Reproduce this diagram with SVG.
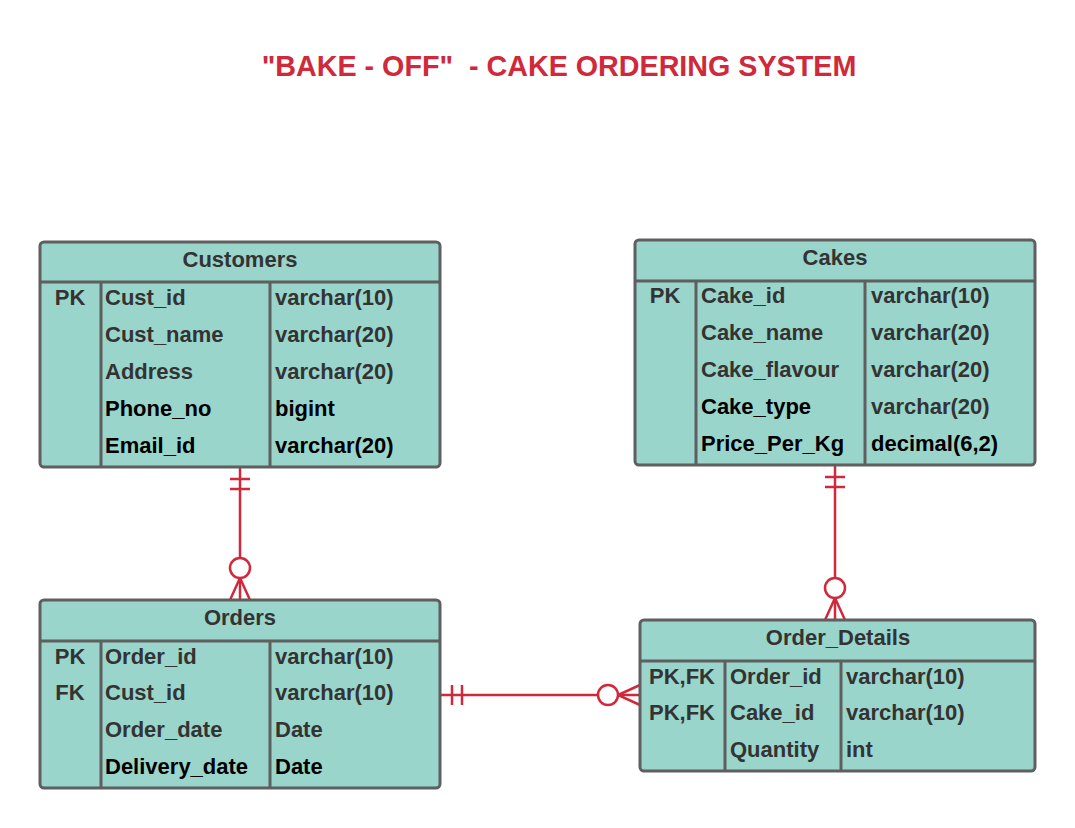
<svg xmlns="http://www.w3.org/2000/svg" width="1075" height="828" viewBox="0 0 1075 828">
<style>
.box{fill:#99d5cb;stroke:#5f5f5f;stroke-width:3}
.ln{stroke:#5f5f5f;stroke-width:3;fill:none}
text{font-family:"Liberation Sans",Arial,sans-serif;font-weight:bold;font-size:22px;fill:#333333}
.h{text-anchor:middle}
.k{text-anchor:middle}
.b{fill:#000000}
.title{font-size:28.7px;fill:#d0293b;text-anchor:middle;white-space:pre}
.c{stroke:#d0293b;stroke-width:2.5;fill:none}
.o{stroke:#d0293b;stroke-width:2.5;fill:#ffffff}
</style>
<rect width="1075" height="828" fill="#ffffff"/>
<text class="title" x="559" y="76" xml:space="preserve">"BAKE - OFF"  - CAKE ORDERING SYSTEM</text>

<g id="connectors">
  <g id="cust-orders">
    <line class="c" x1="240" y1="467" x2="240" y2="600"/>
    <line class="c" x1="230" y1="479" x2="250" y2="479"/>
    <line class="c" x1="230" y1="489" x2="250" y2="489"/>
    <path class="c" d="M230 600 L240 578 L250 600"/>
    <circle class="o" cx="240" cy="568" r="10"/>
  </g>
  <g id="cakes-details">
    <line class="c" x1="835" y1="466" x2="835" y2="620"/>
    <line class="c" x1="825" y1="477" x2="845" y2="477"/>
    <line class="c" x1="825" y1="487" x2="845" y2="487"/>
    <path class="c" d="M825 620 L835 598 L845 620"/>
    <circle class="o" cx="835" cy="588" r="10"/>
  </g>
  <g id="orders-details">
    <line class="c" x1="441" y1="695" x2="640" y2="695"/>
    <line class="c" x1="452" y1="685" x2="452" y2="705"/>
    <line class="c" x1="462" y1="685" x2="462" y2="705"/>
    <path class="c" d="M640 685 L618 695 L640 705"/>
    <circle class="o" cx="608" cy="695" r="10"/>
  </g>
</g>

<g id="customers">
  <rect class="box" x="40" y="242" width="400" height="225" rx="4"/>
  <line class="ln" x1="40" y1="282" x2="440" y2="282"/>
  <line class="ln" x1="101" y1="282" x2="101" y2="467"/>
  <line class="ln" x1="270" y1="282" x2="270" y2="467"/>
  <text class="h" x="240" y="267">Customers</text>
  <text class="k" x="70" y="305">PK</text>
  <text x="105" y="305">Cust_id</text>
  <text x="275" y="305">varchar(10)</text>
  <text x="105" y="342">Cust_name</text>
  <text x="275" y="342">varchar(20)</text>
  <text x="105" y="379">Address</text>
  <text x="275" y="379">varchar(20)</text>
  <text class="b" x="105" y="416">Phone_no</text>
  <text class="b" x="275" y="416">bigint</text>
  <text class="b" x="105" y="453">Email_id</text>
  <text class="b" x="275" y="453">varchar(20)</text>
</g>

<g id="cakes">
  <rect class="box" x="635" y="240" width="400" height="225" rx="4"/>
  <line class="ln" x1="635" y1="281" x2="1035" y2="281"/>
  <line class="ln" x1="696" y1="281" x2="696" y2="465"/>
  <line class="ln" x1="865" y1="281" x2="865" y2="465"/>
  <text class="h" x="835" y="265">Cakes</text>
  <text class="k" x="665" y="303">PK</text>
  <text x="701" y="303">Cake_id</text>
  <text x="871" y="303">varchar(10)</text>
  <text x="701" y="340">Cake_name</text>
  <text x="871" y="340">varchar(20)</text>
  <text x="701" y="377">Cake_flavour</text>
  <text x="871" y="377">varchar(20)</text>
  <text class="b" x="701" y="414">Cake_type</text>
  <text x="871" y="414">varchar(20)</text>
  <text class="b" x="701" y="451">Price_Per_Kg</text>
  <text class="b" x="871" y="451">decimal(6,2)</text>
</g>

<g id="orders">
  <rect class="box" x="40" y="600" width="400" height="188" rx="4"/>
  <line class="ln" x1="40" y1="641" x2="440" y2="641"/>
  <line class="ln" x1="101" y1="641" x2="101" y2="788"/>
  <line class="ln" x1="270" y1="641" x2="270" y2="788"/>
  <text class="h" x="240" y="625">Orders</text>
  <text class="k" x="70" y="664">PK</text>
  <text x="105" y="664">Order_id</text>
  <text x="275" y="664">varchar(10)</text>
  <text class="k" x="70" y="700">FK</text>
  <text x="105" y="700">Cust_id</text>
  <text x="275" y="700">varchar(10)</text>
  <text x="105" y="737">Order_date</text>
  <text x="275" y="737">Date</text>
  <text class="b" x="105" y="774">Delivery_date</text>
  <text class="b" x="275" y="774">Date</text>
</g>

<g id="order_details">
  <rect class="box" x="640" y="620" width="395" height="151" rx="4"/>
  <line class="ln" x1="640" y1="661" x2="1035" y2="661"/>
  <line class="ln" x1="725" y1="661" x2="725" y2="771"/>
  <line class="ln" x1="841" y1="661" x2="841" y2="771"/>
  <text class="h" x="838" y="645">Order_Details</text>
  <text class="k" x="682" y="684">PK,FK</text>
  <text x="730" y="684">Order_id</text>
  <text x="846" y="684">varchar(10)</text>
  <text class="k" x="682" y="720">PK,FK</text>
  <text x="730" y="720">Cake_id</text>
  <text x="846" y="720">varchar(10)</text>
  <text x="730" y="757">Quantity</text>
  <text x="846" y="757">int</text>
</g>
</svg>
